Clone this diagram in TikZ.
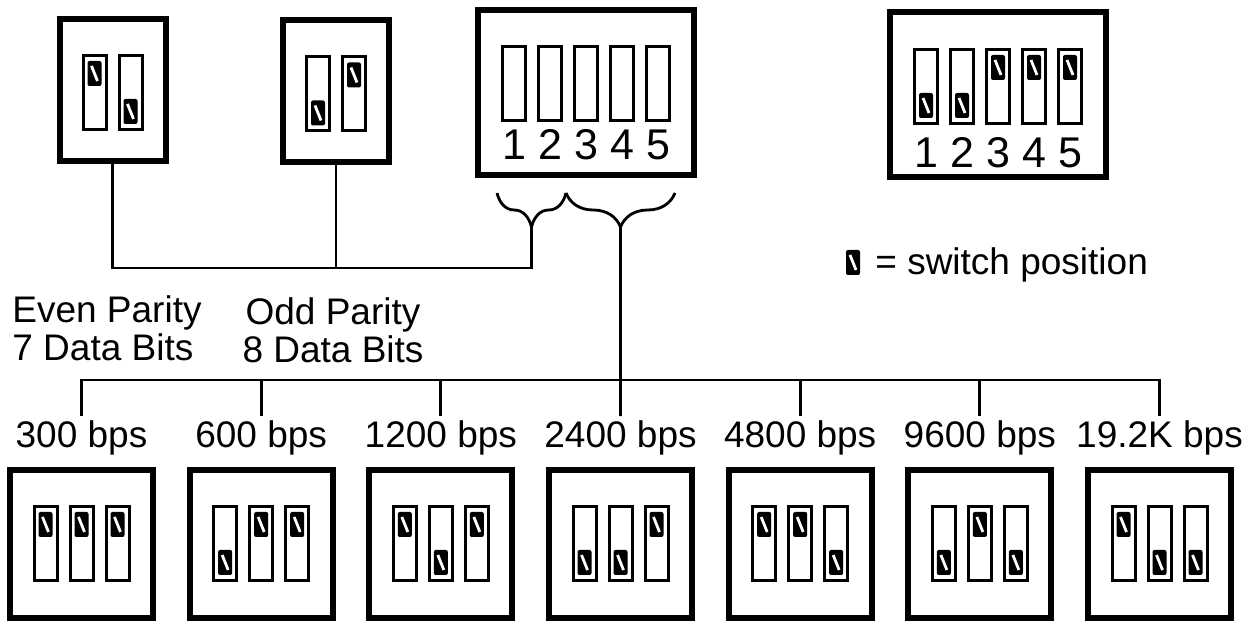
\documentclass[tikz,border=0pt]{standalone}
\usepackage{fontspec}
\setmainfont{Liberation Sans}
\usetikzlibrary{calc,decorations.pathreplacing}
\tikzset{
  every node/.style={text=black, inner sep=0pt},
  dipbox/.style={rectangle, draw, line width=3pt, inner sep=0pt},
  paritybox/.style={dipbox, minimum width=53pt, minimum height=71pt},
  bigbox/.style={dipbox, minimum width=108pt, minimum height=82.5pt},
  ratebox/.style={dipbox, minimum width=71.5pt, minimum height=74pt},
  slot/.style={rectangle, draw, line width=1.5pt, minimum width=11.5pt,
    minimum height=37pt},
  knob/.style={rectangle, rounded corners=1pt, fill=black, minimum width=7pt,
    minimum height=12.5pt,
    path picture={\draw[white, line width=1.4pt]
      ($(path picture bounding box.north west)+(2pt,-2.5pt)$) --
      ($(path picture bounding box.south east)+(-2pt,2.5pt)$);}},
  wire/.style={line width=1.4pt, line cap=rect},
  bracket/.style={line width=1.4pt, decorate,
    decoration={brace, mirror, amplitude=17pt}},
  txt/.style={font=\fontsize{18.5}{19}\selectfont},
  rate/.style={txt, inner sep=3pt},
  digit/.style={font=\fontsize{21.5}{21.5}\selectfont},
}

\begin{document}
\begin{tikzpicture}[x=0.5pt,y=-0.5pt]
\useasboundingbox (0,0) rectangle (1254,624);

% ---- Parity switches -------------------------------------------------------
\node[paritybox] (even) at (112.5,90) {};
\node[paritybox] (odd) at (336,91.5) {};
\foreach \n/\a/\b in {even/-19/19, odd/19/-19}{
  \node[slot] (\n1) at ([shift={(-18,2.5)}]\n.center) {};
  \node[slot] (\n2) at ([shift={(18,2.5)}]\n.center) {};
  \node[knob] (\n k1) at ([shift={(0,\a)}]\n1.center) {};
  \node[knob] (\n k2) at ([shift={(0,\b)}]\n2.center) {};
}

\node[txt, align=left, anchor=north west] (evtext) at (12,295)
  {Even Parity\\7 Data Bits};
\node[txt, align=center, anchor=north] (oddtext) at (333,297)
  {Odd Parity\\8 Data Bits};

% ---- Switch block and example setting -------------------------------------
\node[bigbox] (blk) at (586,92.5) {};
\node[bigbox] (set) at (998,95) {};
\foreach \i in {1,...,5}{
  \node[slot] (blk\i) at ([shift={(36*\i-108,-8.5)}]blk.center) {};
  \node[digit, anchor=base] (blkn\i) at (blk\i.south |- 0,160) {\i};
  \node[slot] (set\i) at ([shift={(36*\i-108,-8.5)}]set.center) {};
  \node[digit, anchor=base] (setn\i) at (set\i.south |- 0,168) {\i};
}
\foreach \dy [count=\i] in {19,19,-19,-19,-19}
  \node[knob] (setk\i) at ([shift={(0,\dy)}]set\i.center) {};

\node[knob] (key) at (853,262.5) {};
\node[txt, anchor=base west] (keytext) at (875,275) {= switch position};

% ---- Braces ------------------------------------------------------------------
\coordinate (b0) at (497,193);
\coordinate (b1) at (566,193);
\coordinate (b2) at (675,193);
\draw[bracket] (b0) -- (b1);
\draw[bracket] (b1) -- (b2);
\coordinate (ptip) at ($(b0)!0.5!(b1)+(0,34)$);
\coordinate (dtip) at ($(b1)!0.5!(b2)+(0,34)$);
\coordinate (pbus) at ($(ptip)+(0,41)$);
\draw[wire] (even.south) -- (even.south |- pbus) -- (pbus) -- (ptip);
\draw[wire] (odd.south) -- (odd.south |- pbus);

% ---- Baud rate switches ----------------------------------------------------
\coordinate (bus) at (620.5,380);
\foreach \r/\a/\b/\c [count=\i] in {300 bps/-19/-19/-19, 600 bps/19/-19/-19,
    1200 bps/-19/19/-19, 2400 bps/19/19/-19, 4800 bps/-19/-19/19,
    9600 bps/19/-19/19, 19.2K bps/-19/19/19}{
  \node[ratebox] (box\i) at (179.67*\i-98.17,544) {};
  \node[rate, anchor=base] (rate\i) at (box\i.center |- 0,448) {\r};
  \foreach \dy [count=\j] in {\a,\b,\c}{
    \node[slot] (box\i-\j) at ([shift={(36*\j-72,-0.5)}]box\i.center) {};
    \node[knob] (knob\i-\j) at ([shift={(0,\dy)}]box\i-\j.center) {};
  }
}
\draw[wire] (rate1.north) -- (rate1.north |- bus) -- (rate7.north |- bus)
  -- (rate7.north);
\foreach \i in {2,...,6}
  \draw[wire] (rate\i.north) -- (rate\i.north |- bus);
\draw[wire] (dtip) -- (rate4.north);

\end{tikzpicture}
\end{document}
